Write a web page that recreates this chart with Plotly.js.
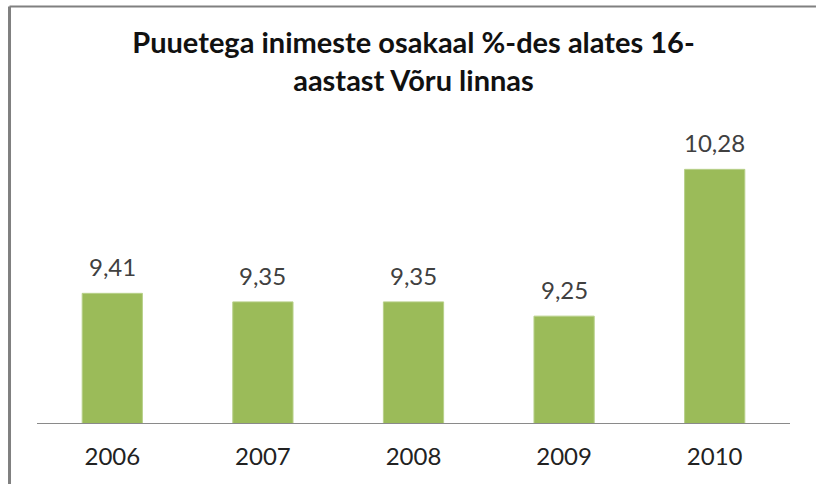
<!DOCTYPE html>
<html>
<head>
<meta charset="utf-8">
<script src="https://cdn.plot.ly/plotly-3.0.1.min.js"></script>
<style>
html,body{margin:0;padding:0;background:#fff;}
#chart{width:816px;height:484px;}
</style>
</head>
<body>
<div id="chart"></div>
<script>
const years = ['2006', '2007', '2008', '2009', '2010'];
const shares = [9.41, 9.35, 9.35, 9.25, 10.28];
const titleText = 'Puuetega inimeste osakaal %-des alates 16-<br>aastast Võru linnas';

const fmt = v => v.toFixed(2).replace('.', ',');

const trace = {
  type: 'bar',
  x: years,
  y: shares,
  marker: {color: '#9BBB59', line: {color: '#b8d08a', width: 1}},
  hoverinfo: 'skip'
};

const annotations = years.map((yr, i) => ({
  x: i, y: shares[i], xref: 'x', yref: 'y',
  text: fmt(shares[i]),
  showarrow: false, yanchor: 'bottom', yshift: 10,
  font: {family: 'Lato, "Open Sans", sans-serif', size: 24, color: '#404040'}
}));

const layout = {
  width: 816, height: 484,
  margin: {l: 37, r: 26, t: 138, b: 61},
  paper_bgcolor: '#ffffff', plot_bgcolor: '#ffffff',
  showlegend: false,
  bargap: 0.6,
  title: {
    text: titleText,
    font: {family: 'Lato, "Open Sans", sans-serif', size: 29, color: '#111111', weight: 'bold'},
    x: 0.5, xref: 'paper', xanchor: 'center',
    y: 0.89, yref: 'container', yanchor: 'middle'
  },
  xaxis: {
    type: 'category',
    range: [-0.5, 4.5], autorange: false,
    showline: true, linecolor: '#8a8a8a', linewidth: 1,
    ticks: '', showgrid: false, zeroline: false,
    tickfont: {family: 'Lato, "Open Sans", sans-serif', size: 24, color: '#222222'},
    ticklabelstandoff: 12
  },
  yaxis: {
    range: [8.5, 10.5], autorange: false,
    visible: false, showgrid: false, zeroline: false, showline: false
  },
  annotations: annotations,
  shapes: [
    {type: 'line', xref: 'paper', yref: 'paper',
     x0: -0.0365, x1: 1.0345, y0: 1.461, y1: 1.461,
     line: {color: '#808080', width: 2}, layer: 'below'},
    {type: 'line', xref: 'paper', yref: 'paper',
     x0: -0.0365, x1: -0.0365, y0: -0.214, y1: 1.461,
     line: {color: '#808080', width: 3}, layer: 'below'}
  ]
};

Plotly.newPlot('chart', [trace], layout, {displayModeBar: false, staticPlot: true});
</script>
</body>
</html>
